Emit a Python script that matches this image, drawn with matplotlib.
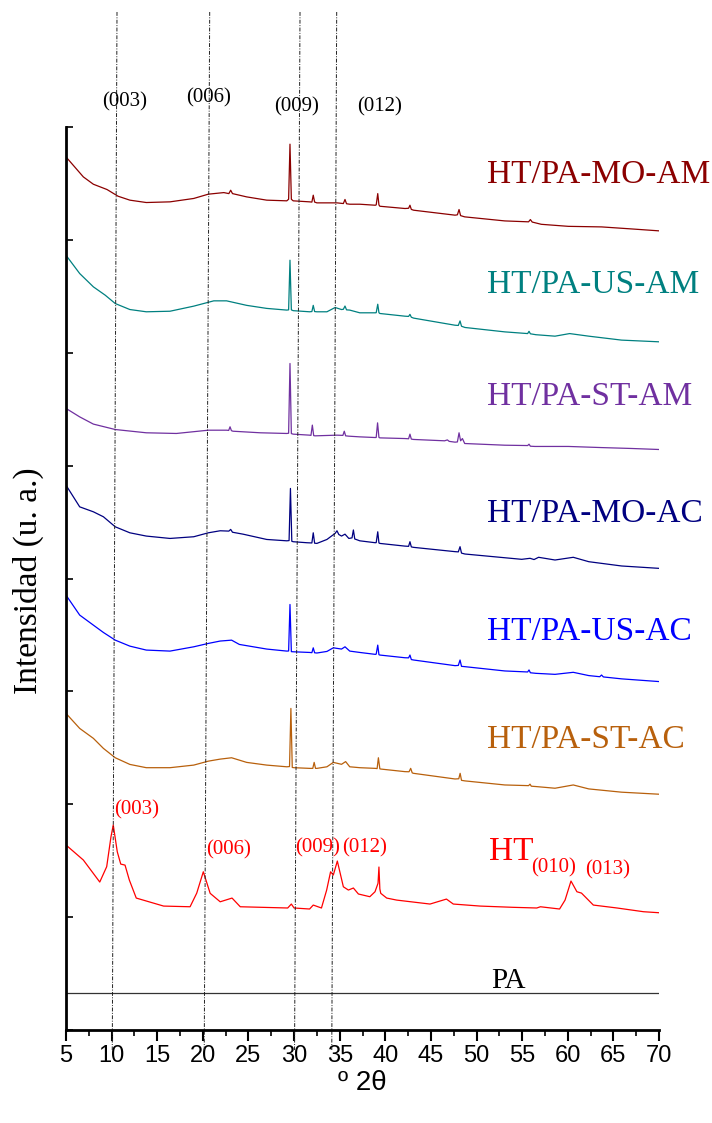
import matplotlib
matplotlib.use("Agg")
import matplotlib.pyplot as plt
import matplotlib.transforms as mtransforms
from matplotlib.ticker import MultipleLocator

plt.rcParams["font.family"] = ["Liberation Serif", "DejaVu Serif"]

# ---- data (2theta in degrees, stacked intensity in plot units) ----
tth_mo_am = [5.0, 6.9, 8.0, 9.5, 10.7, 12.0, 13.8, 16.4, 19.0, 20.6, 22.3, 22.85, 23.05, 23.25,
             24.8, 27.0, 29.2, 29.4, 29.55, 29.7, 29.9, 31.7, 31.95, 32.1, 32.25, 32.5, 34.7,
             35.4, 35.58, 35.75, 36.1, 37.2, 38.9, 39.0, 39.17, 39.3, 39.4, 42.15, 42.55, 42.7,
             42.85, 43.1, 47.64, 47.9, 48.08, 48.25, 48.7, 53.1, 55.7, 55.9, 56.1, 57.1, 60.06,
             63.7, 67.0, 70.0]
int_mo_am = [7.735, 7.558, 7.493, 7.446, 7.387, 7.352, 7.331, 7.337, 7.367, 7.405, 7.419, 7.41,
             7.44, 7.41, 7.381, 7.352, 7.346, 7.36, 7.848, 7.36, 7.346, 7.337, 7.335, 7.396,
             7.335, 7.328, 7.328, 7.322, 7.358, 7.32, 7.316, 7.316, 7.307, 7.31, 7.41, 7.31,
             7.298, 7.278, 7.28, 7.307, 7.27, 7.263, 7.219, 7.222, 7.269, 7.215, 7.204, 7.168,
             7.16, 7.18, 7.158, 7.138, 7.12, 7.115, 7.097, 7.08]

tth_us_am = [5.0, 6.5, 8.0, 9.3, 10.4, 12.0, 13.8, 16.4, 19.0, 21.2, 22.6, 24.8, 27.0, 29.2,
             29.4, 29.55, 29.7, 29.9, 31.7, 31.95, 32.1, 32.25, 32.5, 33.6, 34.5, 35.2, 35.4,
             35.58, 35.75, 36.1, 37.2, 38.9, 39.0, 39.17, 39.3, 39.4, 42.15, 42.55, 42.7, 42.85,
             43.1, 47.64, 48.0, 48.19, 48.35, 48.73, 53.1, 55.6, 55.75, 55.9, 56.5, 58.6, 60.2,
             62.3, 65.9, 70.0]
int_us_am = [6.864, 6.702, 6.584, 6.51, 6.436, 6.383, 6.363, 6.368, 6.413, 6.46, 6.46, 6.42,
             6.393, 6.378, 6.38, 6.82, 6.38, 6.373, 6.363, 6.365, 6.42, 6.365, 6.363, 6.363,
             6.401, 6.383, 6.385, 6.414, 6.38, 6.378, 6.354, 6.354, 6.355, 6.43, 6.355, 6.348,
             6.324, 6.322, 6.34, 6.315, 6.307, 6.244, 6.242, 6.282, 6.235, 6.224, 6.185, 6.17,
             6.19, 6.168, 6.16, 6.147, 6.17, 6.147, 6.112, 6.097]

tth_st_am = [5.0, 6.5, 8.0, 10.4, 13.8, 17.1, 20.6, 22.6, 22.83, 22.98, 23.13, 23.3, 26.3, 29.2,
             29.4, 29.55, 29.7, 29.9, 31.7, 31.85, 32.0, 32.15, 32.3, 34.7, 35.35, 35.5, 35.65,
             36.0, 37.2, 38.9, 39.0, 39.15, 39.3, 39.4, 42.15, 42.55, 42.7, 42.85, 43.1, 46.5,
             46.8, 47.0, 47.64, 47.9, 48.08, 48.25, 48.45, 48.7, 53.1, 55.6, 55.75, 55.9, 56.4,
             60.06, 63.7, 67.0, 70.0]
int_st_am = [5.507, 5.432, 5.368, 5.32, 5.291, 5.285, 5.314, 5.314, 5.312, 5.344, 5.31, 5.305,
             5.291, 5.285, 5.287, 5.905, 5.284, 5.279, 5.27, 5.268, 5.359, 5.266, 5.264, 5.27,
             5.268, 5.305, 5.264, 5.261, 5.255, 5.249, 5.25, 5.379, 5.25, 5.246, 5.24, 5.238,
             5.279, 5.235, 5.232, 5.22, 5.228, 5.215, 5.208, 5.21, 5.291, 5.22, 5.24, 5.196,
             5.181, 5.178, 5.19, 5.172, 5.17, 5.17, 5.16, 5.152, 5.143]

tth_mo_ac = [5.0, 6.5, 8.0, 9.1, 10.4, 12.0, 13.8, 16.4, 19.0, 20.6, 21.9, 22.85, 23.05, 23.25,
             24.4, 27.0, 29.2, 29.45, 29.6, 29.75, 29.9, 31.4, 31.95, 32.1, 32.25, 32.5, 33.6,
             34.5, 34.7, 34.9, 35.2, 35.58, 36.0, 36.35, 36.5, 36.65, 36.8, 37.2, 38.9, 39.0,
             39.17, 39.3, 39.4, 42.15, 42.55, 42.7, 42.85, 43.1, 47.64, 48.0, 48.19, 48.35, 48.73,
             54.95, 55.86, 56.3, 56.8, 58.6, 60.6, 62.3, 65.9, 70.0]
int_mo_ac = [4.827, 4.635, 4.591, 4.547, 4.458, 4.405, 4.376, 4.355, 4.37, 4.405, 4.423, 4.42,
             4.435, 4.41, 4.393, 4.346, 4.334, 4.336, 4.798, 4.33, 4.326, 4.317, 4.315, 4.405,
             4.313, 4.311, 4.346, 4.40, 4.423, 4.39, 4.376, 4.393, 4.355, 4.36, 4.43, 4.35,
             4.346, 4.334, 4.317, 4.318, 4.414, 4.315, 4.311, 4.287, 4.285, 4.326, 4.28, 4.276,
             4.238, 4.236, 4.282, 4.225, 4.217, 4.17, 4.179, 4.168, 4.188, 4.164, 4.188, 4.149,
             4.111, 4.09]

tth_us_ac = [5.0, 6.5, 8.0, 9.1, 10.4, 12.0, 13.8, 16.4, 19.0, 20.6, 21.9, 23.15, 24.0, 27.0,
             29.2, 29.4, 29.55, 29.7, 29.9, 31.7, 31.95, 32.1, 32.25, 32.5, 33.6, 34.3, 35.2,
             35.58, 36.1, 37.2, 38.9, 39.0, 39.17, 39.3, 39.4, 42.15, 42.55, 42.7, 42.85, 43.1,
             47.64, 48.0, 48.19, 48.35, 48.73, 53.1, 55.6, 55.75, 55.9, 56.5, 58.6, 60.6, 62.3,
             63.5, 63.7, 63.9, 65.9, 70.0]
int_us_ac = [3.853, 3.676, 3.587, 3.522, 3.454, 3.401, 3.366, 3.357, 3.395, 3.425, 3.446, 3.454,
             3.416, 3.375, 3.357, 3.358, 3.77, 3.352, 3.351, 3.345, 3.343, 3.386, 3.342, 3.34,
             3.354, 3.386, 3.375, 3.395, 3.357, 3.345, 3.328, 3.33, 3.41, 3.325, 3.322, 3.298,
             3.297, 3.322, 3.282, 3.278, 3.228, 3.23, 3.278, 3.222, 3.219, 3.181, 3.172, 3.19,
             3.165, 3.16, 3.151, 3.169, 3.14, 3.13, 3.145, 3.128, 3.111, 3.087]

tth_st_ac = [5.0, 6.5, 8.0, 9.1, 10.4, 12.0, 13.8, 16.4, 19.0, 20.6, 21.9, 23.15, 24.8, 27.0,
             29.2, 29.5, 29.65, 29.8, 30.0, 31.7, 32.05, 32.2, 32.35, 32.5, 33.6, 34.3, 35.2,
             35.65, 36.1, 37.2, 38.9, 39.1, 39.24, 39.4, 39.5, 42.15, 42.6, 42.78, 42.95, 43.1,
             47.64, 48.05, 48.2, 48.35, 48.73, 53.1, 55.7, 55.86, 56.0, 56.5, 58.6, 60.6, 62.3,
             65.9, 70.0]
int_st_ac = [2.805, 2.672, 2.584, 2.495, 2.412, 2.353, 2.324, 2.324, 2.347, 2.382, 2.4, 2.412,
             2.371, 2.347, 2.332, 2.334, 2.849, 2.326, 2.324, 2.318, 2.318, 2.371, 2.318, 2.318,
             2.332, 2.371, 2.354, 2.378, 2.332, 2.324, 2.318, 2.316, 2.412, 2.314, 2.312, 2.289,
             2.288, 2.318, 2.278, 2.274, 2.224, 2.226, 2.274, 2.212, 2.207, 2.171, 2.165, 2.178,
             2.16, 2.157, 2.142, 2.171, 2.136, 2.107, 2.089]

tth_ht = [5.0, 6.9, 8.7, 9.46, 9.93, 10.18, 10.62, 11.0, 11.47, 11.94, 12.7, 15.7, 18.6, 19.33,
          20.05, 20.8, 21.9, 23.2, 24.1, 29.3, 29.7, 30.0, 31.7, 32.1, 33.0, 33.57, 34.0, 34.3,
          34.74, 35.4, 35.95, 36.5, 37.05, 38.3, 38.87, 39.2, 39.3, 39.4, 39.5, 40.15, 41.25,
          44.9, 46.7, 47.45, 50.4, 54.0, 56.6, 57.0, 59.1, 59.7, 60.35, 61.0, 61.5, 62.8, 65.4,
          68.3, 70.0]
int_ht = [1.639, 1.506, 1.311, 1.447, 1.712, 1.816, 1.579, 1.47, 1.461, 1.329, 1.169, 1.098,
          1.092, 1.213, 1.402, 1.211, 1.136, 1.169, 1.092, 1.081, 1.116, 1.081, 1.072, 1.107,
          1.081, 1.24, 1.402, 1.373, 1.497, 1.269, 1.24, 1.258, 1.205, 1.181, 1.225, 1.3, 1.444,
          1.25, 1.211, 1.169, 1.151, 1.116, 1.16, 1.116, 1.098, 1.087, 1.081, 1.092, 1.072,
          1.151, 1.32, 1.225, 1.213, 1.107, 1.081, 1.048, 1.039]

tth_pa = [5.0, 70.0]
int_pa = [0.328, 0.328]

series = [
    ("HT/PA-MO-AM", tth_mo_am, int_mo_am, "#8B0000", 7.505),
    ("HT/PA-US-AM", tth_us_am, int_us_am, "#008080", 6.531),
    ("HT/PA-ST-AM", tth_st_am, int_st_am, "#7030A0", 5.536),
    ("HT/PA-MO-AC", tth_mo_ac, int_mo_ac, "#000080", 4.502),
    ("HT/PA-US-AC", tth_us_ac, int_us_ac, "#0000FF", 3.454),
    ("HT/PA-ST-AC", tth_st_ac, int_st_ac, "#B8600C", 2.495),
]

# reflection guide lines: 2theta at top of figure and at bottom (slightly slanted)
guide_top = [10.59, 20.75, 30.65, 34.67]
guide_bot = [10.07, 20.15, 30.05, 34.13]
guide_labels = ["(003)", "(006)", "(009)", "(012)"]
guide_label_x = [11.47, 20.67, 30.32, 39.42]
guide_label_y = [8.22, 8.255, 8.18, 8.18]

ht_labels = ["(003)", "(006)", "(009)", "(012)"]
ht_label_x = [12.78, 22.87, 32.62, 37.77]
ht_label_y = [1.949, 1.594, 1.612, 1.612]

sans = ["Liberation Sans Narrow", "Liberation Sans", "DejaVu Sans"]

fig = plt.figure(figsize=(7.12, 11.23), dpi=100)
ax = fig.add_axes([0.0927, 0.0828, 0.8329, 0.8041])

for name, xs, ys, col, ylab in series:
    ax.plot(xs, ys, color=col, lw=0.9)
    ax.text(51.15, ylab, name, color=col, fontsize=24, ha="left", va="baseline")

ax.plot(tth_ht, int_ht, color="#FF0000", lw=0.9)
ax.plot(tth_pa, int_pa, color="#333333", lw=0.9)

ax.text(53.5, 0.37, "PA", fontsize=21, ha="center", va="baseline", color="black")
ax.text(51.37, 1.579, "HT", fontsize=24, color="#FF0000", ha="left", va="center")
ax.text(58.49, 1.435, "(010)", fontsize=15, color="#FF0000", ha="center", va="center")
ax.text(64.41, 1.417, "(013)", fontsize=15, color="#FF0000", ha="center", va="center")
for lab, lx, ly in zip(ht_labels, ht_label_x, ht_label_y):
    ax.text(lx, ly, lab, fontsize=15, color="#FF0000", ha="center", va="center")

# slanted dash-dot guide lines, spanning beyond the axes
tr = mtransforms.blended_transform_factory(ax.transData, fig.transFigure)
y_top = 1 - 12 / 1123
y_bot = 1 - 1050 / 1123
for xt, xb in zip(guide_top, guide_bot):
    ax.plot([xt, xb], [y_top, y_bot], transform=tr, clip_on=False,
            color="#222222", lw=0.7, ls=(0, (4, 1.5, 1, 1.5)))
for lab, lx, ly in zip(guide_labels, guide_label_x, guide_label_y):
    ax.text(lx, ly, lab, fontsize=15, ha="center", va="center", color="black")

ax.set_xlim(5, 70)
ax.set_ylim(0, 8)
ax.xaxis.set_major_locator(MultipleLocator(5))
ax.xaxis.set_minor_locator(MultipleLocator(2.5))
ax.yaxis.set_major_locator(MultipleLocator(1))
ax.tick_params(axis="x", which="major", direction="out", length=8, width=1.5,
               labelsize=17, pad=3)
ax.tick_params(axis="x", which="minor", direction="out", length=4.5, width=1.2)
ax.tick_params(axis="y", which="major", direction="in", length=5, width=1.2,
               labelleft=False)
for lab in ax.get_xticklabels():
    lab.set_fontfamily(sans)
for side in ("top", "right"):
    ax.spines[side].set_visible(False)
ax.spines["left"].set_linewidth(2)
ax.spines["bottom"].set_linewidth(2)

fig.text(28 / 712, 1 - 581 / 1123, "Intensidad (u. a.)", rotation=90, fontsize=24,
         ha="center", va="center")
fig.text(362 / 712, 1 - 1083 / 1123, "º 2θ", fontsize=20, ha="center", va="center",
         family=sans)

fig.savefig("out.png", dpi=100)
